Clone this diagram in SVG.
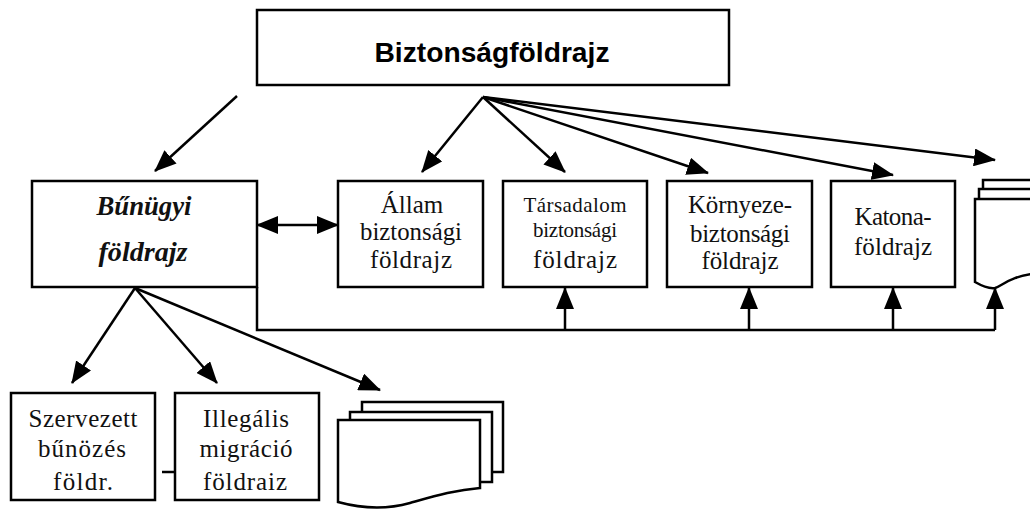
<svg xmlns="http://www.w3.org/2000/svg" width="1030" height="509" viewBox="0 0 1030 509">
<style>
.box{fill:#fff;stroke:#000;stroke-width:2.5}
.pg{fill:#fff;stroke:#000;stroke-width:2.5}
.ln{fill:none;stroke:#000;stroke-width:2.5}
.t{font-family:"Liberation Serif","Times New Roman",serif;font-size:25px;fill:#111;text-anchor:middle}
.ts{font-size:21px}
.ti{font-weight:bold;font-style:italic;font-size:27px}
.h{font-family:"Liberation Sans",Arial,sans-serif;font-weight:bold;font-size:27px;fill:#000;text-anchor:middle}
</style>
<defs>
<marker id="ah" viewBox="0 0 22 18" markerWidth="22" markerHeight="18" refX="21" refY="9" orient="auto-start-reverse" markerUnits="userSpaceOnUse">
<path d="M0,0 L22,9 L0,18 z" fill="#000"/>
</marker>
</defs>
<rect width="1030" height="509" fill="#fff"/>
<g id="connectors">
<line class="ln" x1="237" y1="96" x2="155" y2="171" marker-end="url(#ah)"/>
<line class="ln" x1="257" y1="225" x2="338" y2="225" marker-start="url(#ah)" marker-end="url(#ah)"/>
<line class="ln" x1="483" y1="97" x2="422" y2="172" marker-end="url(#ah)"/>
<line class="ln" x1="483" y1="97" x2="565" y2="172" marker-end="url(#ah)"/>
<line class="ln" x1="483" y1="97" x2="708" y2="173" marker-end="url(#ah)"/>
<line class="ln" x1="483" y1="97" x2="893" y2="175" marker-end="url(#ah)"/>
<line class="ln" x1="483" y1="97" x2="995" y2="160" marker-end="url(#ah)"/>
<path class="ln" d="M257,287 L257,330 L995,330"/>
<line class="ln" x1="565" y1="330" x2="565" y2="288" marker-end="url(#ah)"/>
<line class="ln" x1="749" y1="330" x2="749" y2="288" marker-end="url(#ah)"/>
<line class="ln" x1="893" y1="330" x2="893" y2="288" marker-end="url(#ah)"/>
<line class="ln" x1="995" y1="330" x2="995" y2="288" marker-end="url(#ah)"/>
<line class="ln" x1="135" y1="288" x2="72" y2="383" marker-end="url(#ah)"/>
<line class="ln" x1="135" y1="288" x2="217" y2="383" marker-end="url(#ah)"/>
<line class="ln" x1="135" y1="288" x2="380" y2="390" marker-end="url(#ah)"/>
<line class="ln" x1="162" y1="472" x2="175" y2="472"/>
</g>
<g id="biztonsagfoldrajz">
<rect class="box" x="257" y="10" width="472" height="75"/>
<text class="h" x="492" y="62" textLength="235" lengthAdjust="spacingAndGlyphs">Biztonságföldrajz</text>
</g>
<g id="bunugyi">
<rect class="box" x="32" y="181" width="225" height="106"/>
<text class="t ti" x="144" y="215" textLength="95" lengthAdjust="spacingAndGlyphs">Bűnügyi</text>
<text class="t ti" x="143" y="261" textLength="89" lengthAdjust="spacingAndGlyphs">földrajz</text>
</g>
<g id="allam">
<rect class="box" x="338" y="181" width="145" height="106"/>
<text class="t" x="412" y="213">Állam</text>
<text class="t" x="411" y="240" textLength="102" lengthAdjust="spacingAndGlyphs">biztonsági</text>
<text class="t" x="411" y="268" textLength="82">földrajz</text>
</g>
<g id="tarsadalom">
<rect class="box" x="503" y="181" width="144" height="106"/>
<text class="t ts" x="575" y="212" textLength="103">Társadalom</text>
<text class="t ts" x="575" y="237" textLength="84">biztonsági</text>
<text class="t" x="575" y="268" textLength="84">földrajz</text>
</g>
<g id="kornyezet">
<rect class="box" x="667" y="181" width="145" height="106"/>
<text class="t" x="740" y="213" textLength="104">Környeze-</text>
<text class="t" x="740" y="242" textLength="100">biztonsági</text>
<text class="t" x="740" y="269" textLength="77">földrajz</text>
</g>
<g id="katona">
<rect class="box" x="831" y="181" width="124" height="106"/>
<text class="t" x="893" y="225" textLength="77">Katona-</text>
<text class="t" x="893" y="255" textLength="78">földrajz</text>
</g>
<g id="doc-top">
<rect class="pg" x="983" y="180" width="70" height="60"/>
<rect class="pg" x="979" y="189" width="70" height="60"/>
<path class="pg" d="M975,199 L975,282 C982,286 988,289 995,288 C1003,286 1008,276 1040,273 L1040,199 Z"/>
</g>
<g id="szervezett">
<rect class="box" x="11" y="393" width="144" height="107"/>
<text class="t" x="83" y="427" textLength="109">Szervezett</text>
<text class="t" x="82" y="457" textLength="88">bűnözés</text>
<text class="t" x="83" y="490" textLength="60">földr.</text>
</g>
<g id="illegalis">
<rect class="box" x="175" y="393" width="144" height="107"/>
<text class="t" x="246" y="427" textLength="86">Illegális</text>
<text class="t" x="246" y="457" textLength="93">migráció</text>
<text class="t" x="245" y="490" textLength="84">földraiz</text>
</g>
<g id="doc-bottom">
<rect class="pg" x="362" y="402" width="141" height="70"/>
<rect class="pg" x="350" y="412" width="142" height="70"/>
<path class="pg" d="M338,420 L480,420 L480,488 C455,490 435,496 410,503 C385,510 360,508 338,502 Z"/>
</g>
</svg>
